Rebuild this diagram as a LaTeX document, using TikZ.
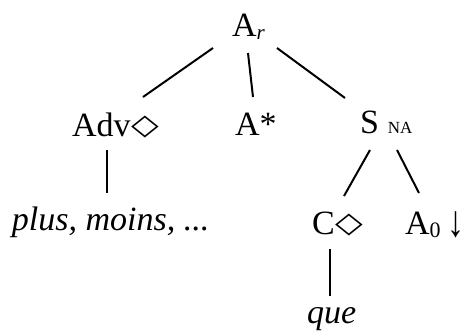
\documentclass[tikz,border=0pt]{standalone}
\usepackage{fontspec}
\setmainfont{Liberation Serif}
\newfontfamily\dejavu{DejaVu Sans}
\newcommand{\dmd}{\hspace{1pt}\raisebox{1.5pt}{\dejavu\fontsize{36}{36}\selectfont\scalebox{1}[0.8]{◇}}}
\begin{document}
\begin{tikzpicture}[x=1pt,y=-1pt,
  lbl/.style={inner sep=0pt,outer sep=0pt,anchor=base west,font=\fontsize{34}{40}\selectfont},
  edge/.style={line width=2pt}]
\useasboundingbox (0,0) rectangle (464,332);
\node[lbl] (Ar) at (232,36) {A\raisebox{-3pt}{\fontsize{21}{21}\selectfont\itshape r}};
\node[lbl] (Adv) at (72,136) {Adv\dmd};
\node[lbl] (Astar) at (235,135) {A*};
\node[lbl] (S) at (360,133) {S\hspace{9pt}{\fontsize{17}{17}\selectfont NA}};
\node[lbl] (plus) at (12,230) {\itshape plus, moins, ...};
\node[lbl] (C) at (312,234) {C\dmd};
\node[lbl] (A0) at (405,234) {A\raisebox{-3pt}{\fontsize{22}{22}\selectfont 0}\hspace{7pt}\raisebox{-2pt}{\scalebox{1}[1.3]{↓}}};
\node[lbl] (que) at (307,323) {\itshape que};
\draw[edge] ([shift={(-19,12)}]Ar.base west) -- ([shift={(71,-39)}]Adv.base west);
\draw[edge] ([shift={(16,17)}]Ar.base west) -- ([shift={(18,-38)}]Astar.base west);
\draw[edge] ([shift={(45,12)}]Ar.base west) -- ([shift={(-15,-35)}]S.base west);
\draw[edge] ([shift={(35,14)}]Adv.base west) -- ([shift={(95,-37)}]plus.base west);
\draw[edge] ([shift={(10,17)}]S.base west) -- ([shift={(32,-38)}]C.base west);
\draw[edge] ([shift={(37,17)}]S.base west) -- ([shift={(14,-41)}]A0.base west);
\draw[edge] ([shift={(18,15)}]C.base west) -- ([shift={(23,-27)}]que.base west);
\end{tikzpicture}
\end{document}
